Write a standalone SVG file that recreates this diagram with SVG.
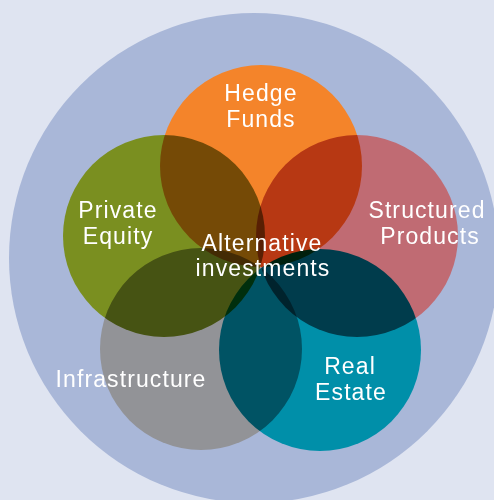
<svg xmlns="http://www.w3.org/2000/svg" width="494" height="500" viewBox="0 0 494 500">
  <style>
    .petal { mix-blend-mode: multiply; }
    .label { font-family: "Liberation Sans", Arial, sans-serif; font-size: 23px; fill: #ffffff; text-anchor: middle; letter-spacing: 1.1px; }
  </style>
  <!-- backdrop -->
  <rect x="0" y="0" width="494" height="500" fill="#dfe4f1"/>
  <circle id="outer-ring" cx="254" cy="258" r="245" fill="#a9b7d8"/>

  <!-- five overlapping circles; overlaps darken by multiplying -->
  <g id="nodes" style="isolation:isolate">
    <g id="hedge-funds">
      <circle class="petal" cx="261" cy="166" r="101" fill="#f4842a"/>
      <text class="label" x="261" y="101">Hedge</text>
      <text class="label" x="261" y="127">Funds</text>
    </g>
    <g id="private-equity">
      <circle class="petal" cx="164" cy="236" r="101" fill="#7a8f20"/>
      <text class="label" x="118" y="218">Private</text>
      <text class="label" x="118" y="244">Equity</text>
    </g>
    <g id="structured-products">
      <circle class="petal" cx="357" cy="236" r="101" fill="#c06b73"/>
      <text class="label" x="427" y="218">Structured</text>
      <text class="label" x="430" y="244">Products</text>
    </g>
    <g id="infrastructure">
      <circle class="petal" cx="201" cy="349" r="101" fill="#929397"/>
      <text class="label" x="131" y="387">Infrastructure</text>
    </g>
    <g id="real-estate">
      <circle class="petal" cx="320" cy="350" r="101" fill="#008fa9"/>
      <text class="label" x="350" y="374">Real</text>
      <text class="label" x="351" y="400">Estate</text>
    </g>
  </g>

  <!-- centre label -->
  <g id="alternative-investments">
    <text class="label" x="262" y="251">Alternative</text>
    <text class="label" x="263" y="276">investments</text>
  </g>

  <g id="connectors"/>
</svg>
